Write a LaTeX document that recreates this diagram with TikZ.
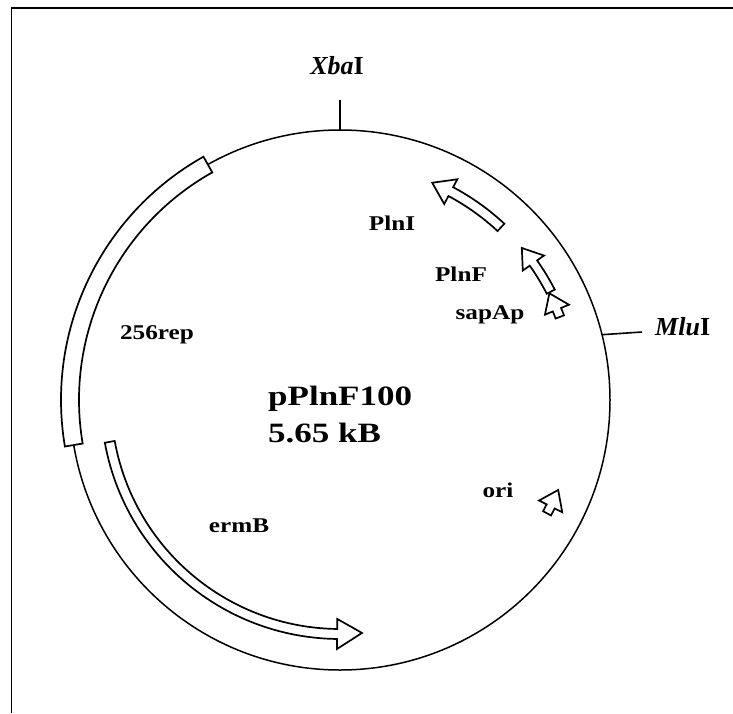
\documentclass[tikz,border=0pt]{standalone}
\usepackage{fontspec}
\setmainfont{Liberation Serif}
\usepackage{graphicx}
% #1 tip name, #2 tail angle, #3 head-base angle, #4 tip angle, #5 radius, #6 shaft half width, #7 head half width
\newcommand\arcarrow[7]{%
  \draw[gene] ({#2}:{#5+#6}) arc[start angle=#2, end angle=#3, radius={#5+#6}]
    -- ({#3}:{#5+#7}) -- ({#4}:{#5}) -- ({#3}:{#5-#7}) -- ({#3}:{#5-#6})
    arc[start angle=#3, end angle=#2, radius={#5-#6}] -- cycle
    node[coordinate] (#1) at ({#4}:{#5}) {};}
\begin{document}
\begin{tikzpicture}[x=1pt,y=1pt,
  gene/.style={draw=black, fill=white, line width=1.7pt, line join=miter},
  frame/.style={line width=1.5pt},
  tick/.style={line width=1.6pt},
  lbl/.style={font=\fontsize{21}{25}\selectfont\bfseries, anchor=base, inner sep=0pt},
  site/.style={font=\fontsize{26}{30}\selectfont\bfseries, inner sep=0pt},
  big/.style={font=\fontsize{28}{32}\selectfont\bfseries, anchor=base west, inner sep=0pt}]
\useasboundingbox (-340,-313) rectangle (393,400);
% frame (top and left edges only)
\draw[frame] (393,392) -- (-328.5,392) -- (-328.5,-313);
% plasmid circle
\node[circle, draw, line width=1.5pt, minimum size=540pt, inner sep=0pt, outer sep=0pt] (plasmid) at (0,0) {};
% restriction sites
\coordinate (xbaEnd) at (0,300);
\draw[tick] (plasmid.90) -- (xbaEnd);
\node[site, anchor=base] (xba) at (-3,326) {\textit{Xba}I};
\coordinate (mluEnd) at (302,68);
\draw[tick] (plasmid.14.6) -- (mluEnd);
\node[site, anchor=base west] (mlu) at (315,65) {\textit{Mlu}I};
% 256rep band on the circle
\draw[gene] (119.3:279) arc[start angle=119.3, end angle=189.6, radius=279]
  -- (189.6:261) arc[start angle=189.6, end angle=119.3, radius=261] -- cycle;
% genes
\arcarrow{ermBtip}{190.3}{269.3}{275.4}{234}{5}{15}
\arcarrow{plnItip}{47}{62}{67}{236}{5}{14}
\arcarrow{plnFtip}{27.2}{35.3}{39.9}{237}{4.5}{13}
\arcarrow{sapAptip}{20.7}{22.6}{27}{235}{4.5}{13}
\arcarrow{oritip}{-28.7}{-26.8}{-22.4}{236}{4.5}{13}
% labels
\node[lbl] (lplnI) at (52,170) {\scalebox{1.2}[1]{PlnI}};
\node[lbl] (lplnF) at (121,119) {\scalebox{1.2}[1]{PlnF}};
\node[lbl] (lsap) at (150,81) {\scalebox{1.2}[1]{sapAp}};
\node[lbl] (lrep) at (-183,61) {\scalebox{1.2}[1]{256rep}};
\node[lbl] (lerm) at (-101,-132) {\scalebox{1.2}[1]{ermB}};
\node[lbl] (lori) at (158,-97) {\scalebox{1.2}[1]{ori}};
\node[big] (pname) at (-72,-5) {\scalebox{1.25}[1]{pPlnF100}};
\node[big] (psize) at (-72,-42) {\scalebox{1.25}[1]{5.65 kB}};
\end{tikzpicture}
\end{document}
